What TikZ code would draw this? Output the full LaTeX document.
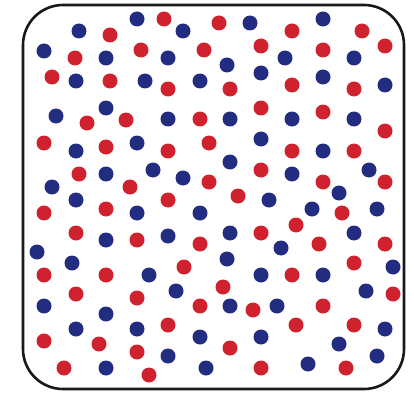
\documentclass[tikz,border=0pt]{standalone}
\definecolor{dotred}{RGB}{208,34,46}
\definecolor{dotblue}{RGB}{34,44,128}
\begin{document}
\begin{tikzpicture}[x=1pt,y=-1pt,
  reddot/.style={fill=dotred},
  bluedot/.style={fill=dotblue},
  frame/.style={draw=black!90,line width=2.6pt,rounded corners=40pt}]
\useasboundingbox (0,0) rectangle (414,393);
\draw[frame] (23,5) rectangle (404,389);
\foreach \x/\y in {137/19,79/31,183/31,44/51,106/58,168/58,76/81,145/81,200/81,56/116,106/108,168/119,76/151,137/143,106/174,153/170,183/178,52/187,76/200,
250/23,323/19,285/58,354/58,227/65,261/73,323/77,385/85,230/119,292/119,354/119,261/139,323/151,230/162,292/174,369/170,269/200,339/193,
137/213,200/213,106/240,168/236,37/252,72/263,149/275,176/291,44/306,106/314,76/329,137/329,200/337,168/356,106/368,206/368,
312/209,377/209,230/233,354/233,281/248,227/259,393/267,261/275,323/275,366/291,230/306,277/306,385/329,261/337,339/344,377/356,308/364}
  \fill[bluedot] (\x,\y) circle (7.5);
\foreach \x/\y in {164/19,110/35,75/58,141/50,204/50,52/77,110/81,168/89,87/123,126/120,200/119,44/143,106/147,168/151,209/143,79/174,209/182,130/187,168/200,
219/23,292/31,362/31,261/46,323/50,385/46,230/89,292/85,354/89,261/108,323/112,385/131,292/151,354/151,261/170,323/182,385/182,238/196,
44/213,106/209,76/233,137/240,200/244,44/275,106/275,184/267,76/294,137/298,200/306,168/325,44/341,99/344,137/352,64/368,149/375,
342/213,261/233,296/225,319/244,385/244,354/263,292/275,223/287,393/294,253/310,323/306,296/325,354/325,230/348,261/368,346/368}
  \fill[reddot] (\x,\y) circle (7.5);
\end{tikzpicture}
\end{document}
